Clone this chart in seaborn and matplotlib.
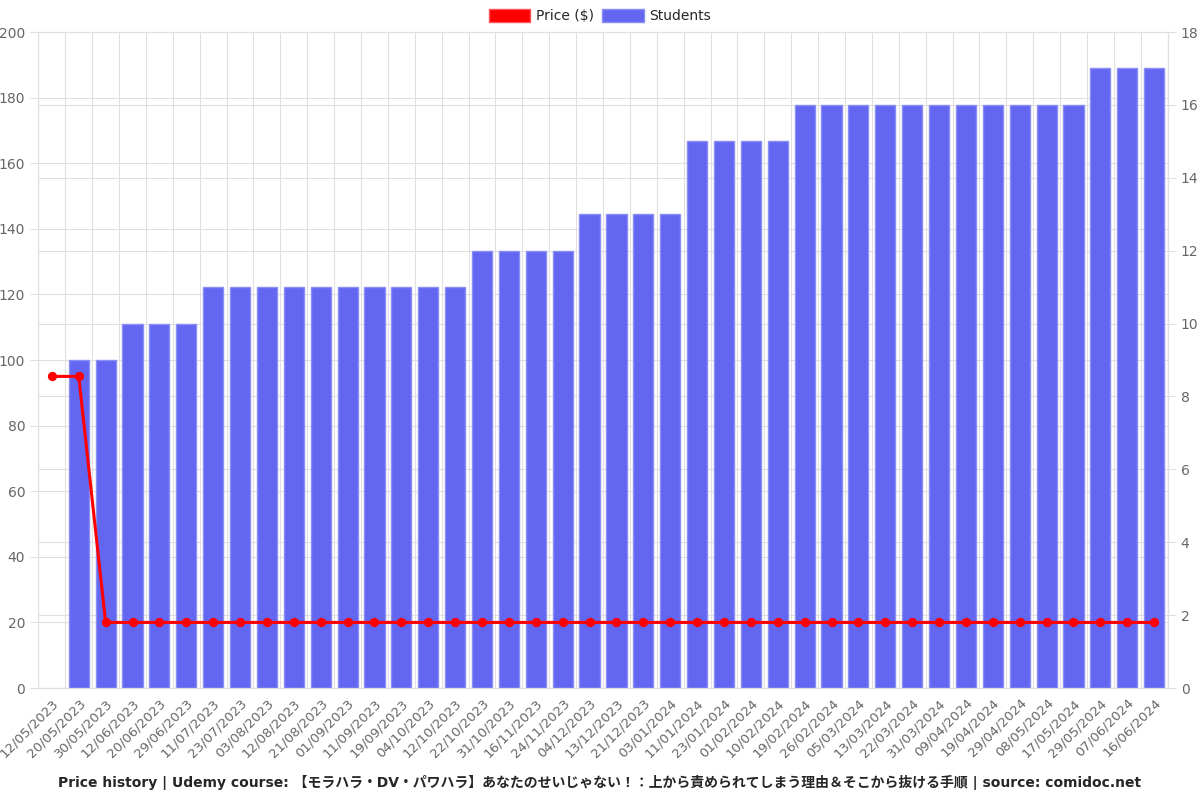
import matplotlib
matplotlib.use("Agg")
import matplotlib.pyplot as plt
import numpy as np
import pandas as pd
import seaborn as sns
from matplotlib.patches import Patch
from matplotlib.ticker import FixedLocator, MultipleLocator

dates = [
    "12/05/2023", "20/05/2023", "30/05/2023", "12/06/2023", "20/06/2023",
    "29/06/2023", "11/07/2023", "23/07/2023", "03/08/2023", "12/08/2023",
    "21/08/2023", "01/09/2023", "11/09/2023", "19/09/2023", "04/10/2023",
    "12/10/2023", "22/10/2023", "31/10/2023", "16/11/2023", "24/11/2023",
    "04/12/2023", "13/12/2023", "21/12/2023", "03/01/2024", "11/01/2024",
    "23/01/2024", "01/02/2024", "10/02/2024", "19/02/2024", "26/02/2024",
    "05/03/2024", "13/03/2024", "22/03/2024", "31/03/2024", "09/04/2024",
    "19/04/2024", "29/04/2024", "08/05/2024", "17/05/2024", "29/05/2024",
    "07/06/2024", "16/06/2024",
]
price = [95, 95] + [19.99] * 40
students = ([np.nan, 9, 9, 10, 10, 10] + [11] * 10 + [12] * 4 + [13] * 4
            + [15] * 4 + [16] * 11 + [17] * 3)

course = "【モラハラ・DV・パワハラ】あなたのせいじゃない！：上から責められてしまう理由＆そこから抜ける手順"
title = f"Price history | Udemy course: {course} | source: comidoc.net"

df = pd.DataFrame({"date": dates, "price": price, "students": students})

sns.set_style("white")
plt.rcParams["font.family"] = ["DejaVu Sans", "Noto Sans CJK JP"]

bar_color = "#6366f1"
grid_color = "#e0e0e0"
text_color = "#666666"

fig, ax = plt.subplots(figsize=(12, 8), dpi=100)
ax2 = ax.twinx()

sns.barplot(data=df, x="date", y="students", ax=ax2, color=bar_color,
            saturation=1, width=0.75, edgecolor="#8b8ef5", linewidth=1)
sns.pointplot(data=df, x="date", y="price", ax=ax, color="red",
              markers="o", markersize=5, linewidth=2.2)

# price line on top of the bars
ax.set_zorder(ax2.get_zorder() + 1)
ax.patch.set_visible(False)

ax.set_xlim(-0.5, len(dates) - 0.5)
ax.set_ylim(0, 200)
ax2.set_ylim(0, 18)
ax.yaxis.set_major_locator(MultipleLocator(20))
ax2.yaxis.set_major_locator(MultipleLocator(2))

# horizontal grid of both scales drawn behind the bars
left_ticks = np.arange(0, 201, 20)
ax2.yaxis.set_minor_locator(FixedLocator(left_ticks * 18 / 200))
ax2.grid(True, which="both", axis="y", color=grid_color, lw=0.8)
ax2.set_axisbelow(True)
ax2.tick_params(axis="y", which="minor", length=0)

# vertical grid lines between categories, like the source chart
ax.xaxis.set_minor_locator(FixedLocator(np.arange(-0.5, len(dates), 1)))
ax.grid(True, which="minor", axis="x", color=grid_color, lw=0.8)
ax.grid(False, which="major", axis="y")

ax.set_xticks(range(len(dates)))
ax.set_xticklabels(dates, rotation=45, ha="right", rotation_mode="anchor",
                   fontsize=9.5, color=text_color)
ax.tick_params(axis="x", which="major", length=0, pad=6)
ax.tick_params(axis="x", which="minor", length=6, color=grid_color)
ax.tick_params(axis="y", labelsize=10, labelcolor=text_color, length=6,
               color=grid_color)
ax2.tick_params(axis="y", which="major", labelsize=10, labelcolor=text_color,
                length=6, color=grid_color)

ax.set_xlabel("")
ax.set_ylabel("")
ax2.set_xlabel("")
ax2.set_ylabel("")
for a in (ax, ax2):
    for s in a.spines.values():
        s.set_color(grid_color)

handles = [Patch(facecolor="red", edgecolor="#ff5555", label="Price ($)"),
           Patch(facecolor=bar_color, edgecolor="#8b8ef5", label="Students")]
fig.legend(handles=handles, loc="upper center", bbox_to_anchor=(0.5, 1.005),
           ncol=2, frameon=False, fontsize=10, handlelength=3.0,
           handleheight=1.1, columnspacing=0.6, handletextpad=0.4)

fig.text(0.5, 0.012, title, ha="center", va="bottom", fontsize=10,
         fontweight="bold")

fig.subplots_adjust(left=0.032, right=0.973, top=0.96, bottom=0.14)
fig.savefig("out.png", dpi=100)
